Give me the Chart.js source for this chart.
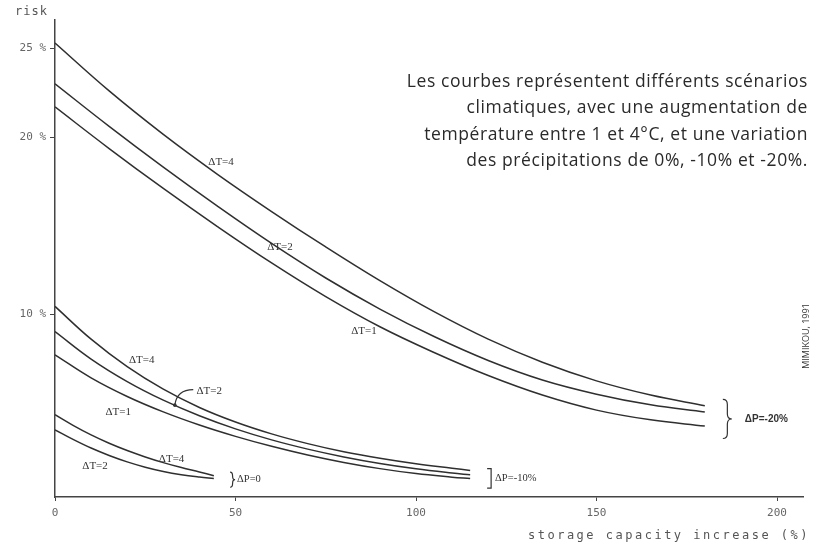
<!DOCTYPE html>
<html>
<head>
<meta charset="utf-8">
<script src="https://cdn.jsdelivr.net/npm/chart.js@4/dist/chart.umd.min.js"></script>
<style>
  html, body { margin: 0; padding: 0; background: #fff; }
  #wrap { position: relative; width: 813px; height: 544px; }
</style>
</head>
<body>
<div id="wrap"><canvas id="c"></canvas></div>
<script>
// Risk (%) against storage capacity increase (%), per climate scenario.
// ΔP = -20 % group
const xMinus20 = [0, 15, 30, 45, 60, 75, 90, 105, 120, 135, 150, 165, 180];
const riskT4P20 = [25.3, 22.6, 20.15, 17.9, 15.8, 13.8, 11.9, 10.15, 8.6, 7.3, 6.25, 5.45, 4.85];
const riskT2P20 = [23.0, 20.6, 18.3, 16.1, 14.0, 12.05, 10.3, 8.75, 7.4, 6.3, 5.5, 4.9, 4.5];
const riskT1P20 = [21.7, 19.35, 17.1, 14.95, 12.9, 11.0, 9.3, 7.85, 6.55, 5.45, 4.6, 4.05, 3.7];

// ΔP = -10 % group
const xMinus10 = [0, 10, 20, 30, 40, 50, 60, 70, 80, 90, 100, 110, 115];
const riskT4P10 = [10.45, 8.6, 7.05, 5.78, 4.75, 3.93, 3.26, 2.71, 2.25, 1.88, 1.57, 1.32, 1.2];
const riskT2P10 = [9.03, 7.48, 6.21, 5.16, 4.28, 3.54, 2.92, 2.4, 1.96, 1.59, 1.29, 1.05, 0.95];
const riskT1P10 = [7.72, 6.42, 5.37, 4.5, 3.76, 3.12, 2.56, 2.07, 1.65, 1.3, 1.02, 0.82, 0.74];

// ΔP = 0 group
const xZero = [0, 5, 10, 15, 20, 25, 30, 35, 40, 44];
const riskT4P0 = [4.34, 3.74, 3.2, 2.73, 2.32, 1.96, 1.64, 1.36, 1.11, 0.9];
const riskT2P0 = [3.49, 2.95, 2.46, 2.04, 1.68, 1.38, 1.14, 0.96, 0.83, 0.75];

// Axis ticks
const xTicks = [0, 50, 100, 150, 200];
const yTicks = [10, 20, 25];

// Curve names written next to the lines (positions in data units)
const curveLabels = [
  { text: 'ΔT=4', x: 46.0, y: 18.6 },
  { text: 'ΔT=2', x: 62.3, y: 13.8 },
  { text: 'ΔT=1', x: 85.6, y: 9.07 },
  { text: 'ΔT=4', x: 24.0, y: 7.44 },
  { text: 'ΔT=2', x: 42.7, y: 5.69 },
  { text: 'ΔT=1', x: 17.5, y: 4.48 },
  { text: 'ΔT=4', x: 32.3, y: 1.86 },
  { text: 'ΔT=2', x: 11.1, y: 1.46 }
];

// Group brackets: kind, x of bracket, y range, text
const groupLabels = [
  { kind: 'brace', x: 185.0, y0: 5.2, y1: 3.0, text: 'ΔP=-20%', gap: 13, bold: true },
  { kind: 'square', x: 119.7, y0: 1.3, y1: 0.2, text: 'ΔP=-10%', gap: 3, bold: false },
  { kind: 'brace', x: 48.5, y0: 1.1, y1: 0.25, text: 'ΔP=0', gap: 2, bold: false }
];

const noteLines = [
  'Les courbes représentent différents scénarios',
  'climatiques, avec une augmentation de',
  'température entre 1 et 4°C, et une variation',
  'des précipitations de 0%, -10% et -20%.'
];

const toPoints = (xs, ys) => xs.map((x, i) => ({ x: x, y: ys[i] }));

const lineStyle = {
  borderColor: '#2f2f2f',
  borderWidth: 1.5,
  pointRadius: 0,
  fill: false,
  tension: 0.4
};

const series = [
  ['ΔT=4, ΔP=-20%', xMinus20, riskT4P20],
  ['ΔT=2, ΔP=-20%', xMinus20, riskT2P20],
  ['ΔT=1, ΔP=-20%', xMinus20, riskT1P20],
  ['ΔT=4, ΔP=-10%', xMinus10, riskT4P10],
  ['ΔT=2, ΔP=-10%', xMinus10, riskT2P10],
  ['ΔT=1, ΔP=-10%', xMinus10, riskT1P10],
  ['ΔT=4, ΔP=0', xZero, riskT4P0],
  ['ΔT=2, ΔP=0', xZero, riskT2P0]
];

function drawBrace(ctx, x, top, bottom, w) {
  const mid = (top + bottom) / 2;
  const r = Math.min(5, (bottom - top) / 4);
  ctx.beginPath();
  ctx.moveTo(x, top);
  ctx.quadraticCurveTo(x + w / 2, top, x + w / 2, top + r);
  ctx.lineTo(x + w / 2, mid - r);
  ctx.quadraticCurveTo(x + w / 2, mid, x + w, mid);
  ctx.quadraticCurveTo(x + w / 2, mid, x + w / 2, mid + r);
  ctx.lineTo(x + w / 2, bottom - r);
  ctx.quadraticCurveTo(x + w / 2, bottom, x, bottom);
  ctx.stroke();
}

const annotations = {
  id: 'annotations',
  afterDatasetsDraw(chart) {
    const { ctx } = chart;
    const sx = chart.scales.x, sy = chart.scales.y;
    ctx.save();
    ctx.fillStyle = '#333';
    ctx.strokeStyle = '#333';
    ctx.lineWidth = 1.2;

    // curve names
    ctx.font = '11px "Liberation Serif"';
    ctx.textAlign = 'center';
    ctx.textBaseline = 'middle';
    curveLabels.forEach(l => ctx.fillText(l.text, sx.getPixelForValue(l.x), sy.getPixelForValue(l.y)));

    // pointer from the ΔT=2 (ΔP=-10%) name to its curve
    const ax0 = sx.getPixelForValue(38.3), ay0 = sy.getPixelForValue(5.75);
    const ax1 = sx.getPixelForValue(33.2), ay1 = sy.getPixelForValue(4.88);
    ctx.beginPath();
    ctx.moveTo(ax0, ay0);
    ctx.quadraticCurveTo(ax1 + 2, ay0, ax1, ay1);
    ctx.stroke();
    ctx.beginPath();
    ctx.arc(ax1, ay1, 1.8, 0, Math.PI * 2);
    ctx.fill();

    // group brackets
    ctx.textAlign = 'left';
    groupLabels.forEach(g => {
      const px = sx.getPixelForValue(g.x);
      const top = sy.getPixelForValue(g.y0), bottom = sy.getPixelForValue(g.y1);
      const mid = (top + bottom) / 2;
      const tall = (bottom - top) > 25;
      if (g.kind === 'brace') {
        drawBrace(ctx, px, top, bottom, tall ? 9 : 5);
      } else {
        ctx.beginPath();
        ctx.moveTo(px, top);
        ctx.lineTo(px + 4, top);
        ctx.lineTo(px + 4, bottom);
        ctx.lineTo(px, bottom);
        ctx.stroke();
      }
      ctx.font = g.bold ? 'bold 10px "Liberation Sans"' : '10.5px "Liberation Serif"';
      ctx.fillText(g.text, px + (g.kind === 'brace' && tall ? 9 : 5) + g.gap, mid);
    });

    // axis names
    ctx.fillStyle = '#555';
    ctx.font = '12px "DejaVu Sans Mono"';
    ctx.letterSpacing = '1px';
    ctx.textAlign = 'left';
    ctx.fillText('risk', 15, 12);
    ctx.letterSpacing = '2.5px';
    ctx.textAlign = 'right';
    ctx.fillText('storage capacity increase (%)', 810, 536);

    // explanatory note
    ctx.letterSpacing = '0.6px';
    ctx.fillStyle = '#2a2a2a';
    ctx.font = '17.5px "Open Sans"';
    ctx.textAlign = 'right';
    noteLines.forEach((t, i) => ctx.fillText(t, 808, 82 + i * 26.3));

    // source
    ctx.letterSpacing = '0px';
    ctx.save();
    ctx.translate(806, 336);
    ctx.rotate(-Math.PI / 2);
    ctx.textAlign = 'center';
    ctx.font = '9px "Open Sans"';
    ctx.fillStyle = '#333';
    ctx.fillText('MIMIKOU, 1991', 0, 0);
    ctx.restore();

    ctx.restore();
  }
};

new Chart(document.getElementById('c'), {
  type: 'line',
  data: {
    datasets: series.map(([name, xs, ys]) => Object.assign({ label: name, data: toPoints(xs, ys) }, lineStyle))
  },
  options: {
    responsive: true,
    maintainAspectRatio: false,
    animation: false,
    devicePixelRatio: 1,
    layout: { padding: { left: 0, right: 10, top: 20, bottom: 0 } },
    plugins: { legend: { display: false }, tooltip: { enabled: false } },
    scales: {
      x: {
        type: 'linear',
        min: 0,
        max: 207.2,
        afterBuildTicks: s => { s.ticks = xTicks.map(v => ({ value: v })); },
        afterFit: s => { s.height = 47; },
        grid: { drawOnChartArea: false, drawTicks: true, tickLength: 4, color: '#444' },
        border: { display: true, color: '#444', width: 1.5 },
        ticks: { font: { family: 'DejaVu Sans Mono', size: 11 }, color: '#666', padding: 6, maxRotation: 0 }
      },
      y: {
        type: 'linear',
        min: -0.3,
        max: 26.6,
        afterBuildTicks: s => { s.ticks = yTicks.map(v => ({ value: v })); },
        afterFit: s => { s.width = 55; },
        grid: { drawOnChartArea: false, drawTicks: true, tickLength: 5, color: '#444' },
        border: { display: true, color: '#444', width: 1.5 },
        ticks: { callback: v => v + ' %', font: { family: 'DejaVu Sans Mono', size: 11 }, color: '#666', padding: 4 }
      }
    }
  },
  plugins: [annotations]
});
</script>
</body>
</html>
